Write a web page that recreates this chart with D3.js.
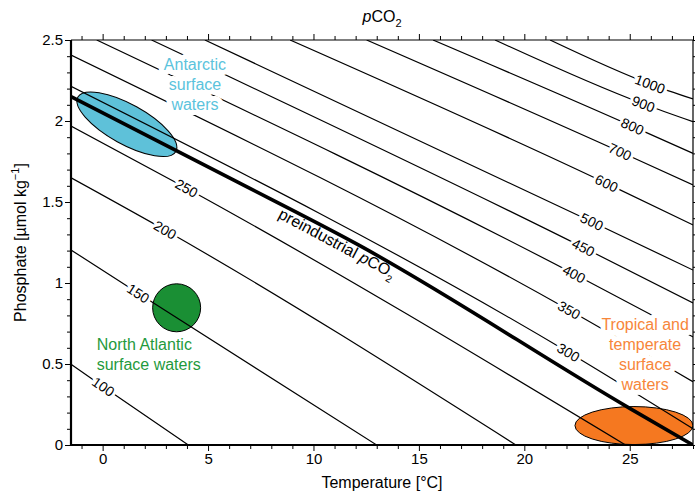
<!DOCTYPE html>
<html>
<head>
<meta charset="utf-8">
<script src="https://cdn.jsdelivr.net/npm/d3@7"></script>
<style>
  body { margin: 0; background: #fff; }
  svg { font-family: "Liberation Sans", Arial, Helvetica, sans-serif; }
</style>
</head>
<body>
<div id="chart"></div>
<script>
// pCO2 isolines as [temperature °C, phosphate µmol/kg]
// second point of each line is where its label sits
const levels = [100, 150, 200, 250, 300, 350, 400, 450, 500, 600, 700, 800, 900, 1000];
const isolines = [
  [[-1.5, 0.498], [0.03, 0.36], [4.06, 0]],
  [[-1.5, 1.204], [1.69, 0.936], [13.0, 0]],
  [[-1.5, 1.650], [2.96, 1.327], [19.6, 0]],
  [[-1.5, 1.969], [3.98, 1.585], [24.8, 0]],
  [[-1.5, 2.214], [22.09, 0.572], [28, 0.10]],
  [[-1.5, 2.407], [22.12, 0.833], [28, 0.39]],
  [[-0.28, 2.5], [22.36, 1.056], [28, 0.667]],
  [[2.32, 2.5], [22.8, 1.219], [28, 0.877]],
  [[4.85, 2.5], [23.2, 1.378], [28, 1.08]],
  [[8.89, 2.5], [23.9, 1.615], [28, 1.358]],
  [[12.52, 2.5], [24.54, 1.81], [28, 1.605]],
  [[15.67, 2.5], [25.13, 1.967], [28, 1.80]],
  [[18.61, 2.5], [25.65, 2.105], [28, 1.996]],
  [[21.22, 2.5], [25.96, 2.228], [28, 2.136]]
];
const preindustrial = [[-1.5, 2.15], [6.2, 1.636], [12.13, 1.235], [25.0, 0.226], [28, 0]];
const preindustrialLabelAt = [11.0, 1.215];

// water masses
const regionT = [1.15, 3.51, 25.2];
const regionP = [1.98, 0.847, 0.12];
const regionText = [
  ['Antarctic', 'surface', 'waters'],
  ['North Atlantic', 'surface waters'],
  ['Tropical and', 'temperate', 'surface', 'waters']
];
const regionTextT = [4.38, -0.28, 25.73];
const regionTextP = [2.315, 0.586, 0.707];

const xTicks = [0, 5, 10, 15, 20, 25];
const yTicks = [0, 0.5, 1, 1.5, 2, 2.5];

const W = 695, H = 495;
const margin = {top: 40, right: 2, bottom: 50, left: 71};

const svg = d3.select('#chart').append('svg')
    .attr('width', W)
    .attr('height', H);

const x = d3.scaleLinear().domain([-1.5, 28]).range([margin.left, W - margin.right]);
const y = d3.scaleLinear().domain([0, 2.5]).range([H - margin.bottom, margin.top]);

svg.append('clipPath').attr('id', 'plot-clip')
  .append('rect')
    .attr('x', x(-1.5)).attr('y', y(2.5))
    .attr('width', x(28) - x(-1.5)).attr('height', y(0) - y(2.5));

const plot = svg.append('g').attr('clip-path', 'url(#plot-clip)');

// water mass shapes sit under the isolines
const shapeStyle = [
  {fill: '#5ec1d9', rx: 56, ry: 20, rot: 29},
  {fill: '#1a8f34', rx: 24, ry: 24, rot: 0},
  {fill: '#f57820', rx: 59, ry: 19, rot: 0}
];
const textColor = ['#5bc3dc', '#1f9a3c', '#f7863a'];

regionT.forEach((t, i) => {
  const s = shapeStyle[i];
  plot.append('ellipse')
      .attr('transform', `translate(${x(t)},${y(regionP[i])}) rotate(${s.rot})`)
      .attr('rx', s.rx)
      .attr('ry', s.ry)
      .attr('fill', s.fill)
      .attr('stroke', '#000')
      .attr('stroke-width', 1);
});

const line = d3.line()
    .x(d => x(d[0]))
    .y(d => y(d[1]))
    .curve(d3.curveMonotoneX);

const isoPaths = plot.selectAll('.iso')
  .data(isolines)
  .join('path')
    .attr('class', 'iso')
    .attr('d', line)
    .attr('fill', 'none')
    .attr('stroke', '#000')
    .attr('stroke-width', 1.2);

const prePath = plot.append('path')
    .attr('d', line(preindustrial))
    .attr('fill', 'none')
    .attr('stroke', '#000')
    .attr('stroke-width', 3.6);

// angle of a path near a screen point
function angleNear(node, px, py) {
  const L = node.getTotalLength();
  let best = 0, bd = Infinity;
  for (let s = 0; s <= L; s += 1) {
    const p = node.getPointAtLength(s);
    const d = (p.x - px) ** 2 + (p.y - py) ** 2;
    if (d < bd) { bd = d; best = s; }
  }
  const a = node.getPointAtLength(Math.max(0, best - 4));
  const b = node.getPointAtLength(Math.min(L, best + 4));
  return Math.atan2(b.y - a.y, b.x - a.x) * 180 / Math.PI;
}

const labels = svg.append('g');

isoPaths.each(function(d, i) {
  const px = x(d[1][0]), py = y(d[1][1]);
  const ang = angleNear(this, px, py);
  labels.append('text')
      .attr('transform', `translate(${px},${py}) rotate(${ang})`)
      .attr('text-anchor', 'middle')
      .attr('dominant-baseline', 'central')
      .attr('font-size', 14)
      .attr('fill', '#000')
      .attr('stroke', '#fff')
      .attr('stroke-width', 6)
      .attr('stroke-linejoin', 'round')
      .attr('paint-order', 'stroke')
      .text(levels[i]);
});

// preindustrial label
{
  const px = x(preindustrialLabelAt[0]), py = y(preindustrialLabelAt[1]);
  const ang = angleNear(prePath.node(), px, py);
  const t = labels.append('text')
      .attr('transform', `translate(${px},${py}) rotate(${ang})`)
      .attr('text-anchor', 'middle')
      .attr('font-size', 16)
      .attr('fill', '#000');
  t.append('tspan').text('preindustrial ');
  t.append('tspan').attr('font-style', 'italic').text('p');
  t.append('tspan').text('CO');
  t.append('tspan').attr('font-size', 10).attr('dy', 5).text('2');
}

// water mass names
regionText.forEach((lines, i) => {
  const t = labels.append('text')
      .attr('x', x(regionTextT[i]))
      .attr('y', y(regionTextP[i]))
      .attr('text-anchor', i === 1 ? 'start' : 'middle')
      .attr('font-size', 16)
      .attr('fill', textColor[i])
      .attr('stroke', '#fff')
      .attr('stroke-width', 10)
      .attr('stroke-linejoin', 'round')
      .attr('paint-order', 'stroke');
  lines.forEach((s, j) => {
    t.append('tspan')
        .attr('x', x(regionTextT[i]))
        .attr('dy', j === 0 ? 0 : 20)
        .text(s);
  });
});

// axes
const minorX = d3.range(-1, 29, 1).filter(v => v % 5 !== 0);
const minorY = d3.range(1, 25, 1).filter(v => v % 5 !== 0).map(v => v / 10);

function addAxis(axisFn, transform, major, minor, showLabels) {
  const g = svg.append('g').attr('transform', transform);
  g.append('g').call(axisFn(major).tickSize(6).tickPadding(2)
      .tickFormat(showLabels ? (d => d) : ''))
    .call(a => a.select('.domain').remove());
  g.append('g').call(axisFn(minor).tickSize(4).tickFormat(''))
    .call(a => a.select('.domain').remove());
  g.selectAll('text')
      .attr('font-size', 15)
      .attr('font-family', '"Liberation Sans", Arial, Helvetica, sans-serif')
      .attr('fill', '#000');
  return g;
}

addAxis(v => d3.axisBottom(x).tickValues(v), `translate(0,${y(0)})`, xTicks, minorX, true);
addAxis(v => d3.axisTop(x).tickValues(v), `translate(0,${y(2.5)})`, xTicks, minorX, false);
addAxis(v => d3.axisLeft(y).tickValues(v), `translate(${x(-1.5)},0)`, yTicks, minorY, true);
addAxis(v => d3.axisRight(y).tickValues(v), `translate(${x(28)},0)`, yTicks, minorY, false);

// frame
const frame = svg.append('g').attr('stroke', '#000').attr('fill', 'none');
frame.append('line').attr('x1', x(-1.5)).attr('x2', x(28)).attr('y1', y(2.5)).attr('y2', y(2.5)).attr('stroke-width', 1.2);
frame.append('line').attr('x1', x(28)).attr('x2', x(28)).attr('y1', y(2.5)).attr('y2', y(0)).attr('stroke-width', 1.2);
frame.append('line').attr('x1', x(-1.5) - 1).attr('x2', x(28)).attr('y1', y(0)).attr('y2', y(0)).attr('stroke-width', 1.8);
frame.append('line').attr('x1', x(-1.5)).attr('x2', x(-1.5)).attr('y1', y(2.5)).attr('y2', y(0) + 1).attr('stroke-width', 2.2);

// titles
svg.append('text')
    .attr('x', (x(-1.5) + x(28)) / 2)
    .attr('y', 488)
    .attr('text-anchor', 'middle')
    .attr('font-size', 16)
    .text('Temperature [°C]');

const yTitle = svg.append('text')
    .attr('transform', `translate(26,${(y(0) + y(2.5)) / 2}) rotate(-90)`)
    .attr('text-anchor', 'middle')
    .attr('font-size', 16);
yTitle.append('tspan').text('Phosphate [µmol kg');
yTitle.append('tspan').attr('font-size', 11).attr('dy', -7).text('−1');
yTitle.append('tspan').attr('dy', 7).text(']');

const topTitle = svg.append('text')
    .attr('x', (x(-1.5) + x(28)) / 2)
    .attr('y', 22)
    .attr('text-anchor', 'middle')
    .attr('font-size', 16);
topTitle.append('tspan').attr('font-style', 'italic').text('p');
topTitle.append('tspan').text('CO');
topTitle.append('tspan').attr('font-size', 11).attr('dy', 5).text('2');
</script>
</body>
</html>
